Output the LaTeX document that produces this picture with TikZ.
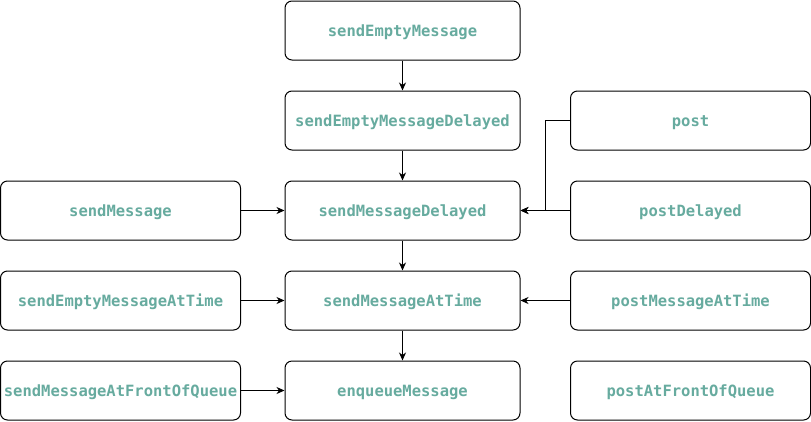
\documentclass[tikz,border=0pt]{standalone}
\usepackage{fontspec}
\newfontfamily\codefont{DejaVu Sans Mono}
\usetikzlibrary{arrows.meta}
\definecolor{txt}{HTML}{67AB9F}
\begin{document}
\begin{tikzpicture}[x=1pt,y=-1pt,
  box/.style={draw=black,line width=1pt,rounded corners=7pt,minimum height=59pt,inner sep=0pt,
    text height=12.4pt,text depth=0pt,
    font=\codefont\bfseries\fontsize{15.5}{18}\selectfont,text=txt},
  midbox/.style={box,minimum width=235pt},
  sidebox/.style={box,minimum width=240pt},
  conn/.style={line width=0.9pt,-{Stealth[length=8pt,width=7pt,inset=2.5pt]}}]
\useasboundingbox (0,0) rectangle (811,421);
\node[midbox] (sem) at (402.5,30.5) {sendEmptyMessage};
\node[midbox] (semd) at (402.5,120.5) {sendEmptyMessageDelayed};
\node[midbox] (smd) at (402.5,210.5) {sendMessageDelayed};
\node[midbox] (smat) at (402.5,300.5) {sendMessageAtTime};
\node[midbox] (enq) at (402.5,390.5) {enqueueMessage};
\node[sidebox] (sm) at (120.5,210.5) {sendMessage};
\node[sidebox] (semat) at (120.5,300.5) {sendEmptyMessageAtTime};
\node[sidebox] (smafq) at (120.5,390.5) {sendMessageAtFrontOfQueue};
\node[sidebox] (post) at (690.5,120.5) {post};
\node[sidebox] (postd) at (690.5,210.5) {postDelayed};
\node[sidebox] (pmat) at (690.5,300.5) {postMessageAtTime};
\node[sidebox] (pafq) at (690.5,390.5) {postAtFrontOfQueue};
\coordinate (bend) at (545.5,120.5);
\draw[conn] (sem) -- (semd);
\draw[conn] (semd) -- (smd);
\draw[conn] (smd) -- (smat);
\draw[conn] (smat) -- (enq);
\draw[conn] (sm) -- (smd);
\draw[conn] (semat) -- (smat);
\draw[conn] (smafq) -- (enq);
\draw[conn] (postd) -- (smd);
\draw[conn] (pmat) -- (smat);
\draw[conn] (post.west) -- (bend) |- (smd.east);
\end{tikzpicture}
\end{document}
